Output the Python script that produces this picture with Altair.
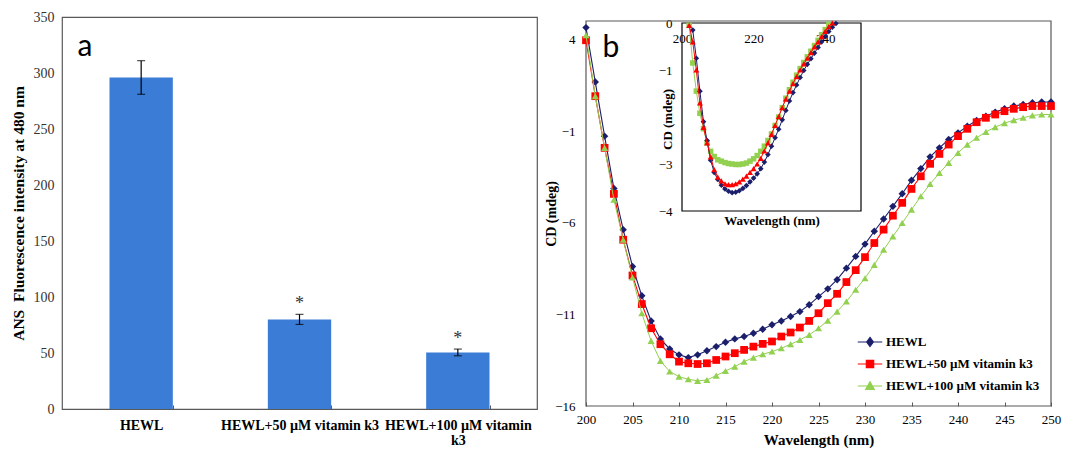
import altair as alt
import pandas as pd

# ---------------- data: panel a ----------------
categories = ["HEWL", "HEWL+50 µM vitamin k3", "HEWL+100 µM vitamin k3"]
intensity = [296, 80, 50.5]
intensity_err = [15, 4.5, 3]
significance = ["", "*", "*"]

# ---------------- data: panel b (main) ----------------
series_names = ["HEWL", "HEWL+50 µM vitamin k3", "HEWL+100 µM vitamin k3"]
wavelength = list(range(200, 251))
cd_hewl = [4.64, 1.67, -1.28, -4.14, -6.38, -8.39, -9.99, -11.36, -12.34, -12.89,
           -13.21, -13.36, -13.21, -12.99, -12.76, -12.52, -12.34, -12.21, -12.03, -11.81,
           -11.57, -11.36, -11.12, -10.85, -10.48, -10.03, -9.61, -9.11, -8.48, -7.84,
           -7.17, -6.47, -5.80, -5.11, -4.42, -3.69, -3.05, -2.41, -1.92, -1.46,
           -1.10, -0.74, -0.43, -0.19, 0.03, 0.21, 0.36, 0.45, 0.54, 0.58, 0.58]
cd_50 = [3.95, 0.90, -1.92, -4.43, -6.93, -8.88, -10.44, -11.76, -12.63, -13.18,
         -13.58, -13.67, -13.71, -13.67, -13.49, -13.30, -13.12, -12.94, -12.76, -12.61,
         -12.48, -12.21, -11.99, -11.72, -11.36, -10.94, -10.39, -9.88, -9.24, -8.59,
         -7.88, -7.11, -6.38, -5.62, -4.92, -4.16, -3.47, -2.79, -2.25, -1.74,
         -1.28, -0.88, -0.52, -0.28, -0.10, 0.08, 0.21, 0.30, 0.36, 0.36, 0.36]
cd_100 = [4.22, 0.90, -1.92, -4.74, -6.93, -8.99, -10.94, -12.45, -13.54, -14.12,
          -14.40, -14.54, -14.63, -14.58, -14.34, -14.09, -13.85, -13.58, -13.36, -13.18,
          -13.03, -12.85, -12.63, -12.40, -12.12, -11.76, -11.34, -10.85, -10.30, -9.66,
          -9.03, -8.30, -7.48, -6.75, -6.02, -5.29, -4.56, -3.89, -3.29, -2.74,
          -2.19, -1.74, -1.37, -1.05, -0.79, -0.57, -0.41, -0.28, -0.15, -0.10, -0.10]

# ---------------- data: panel b (inset) ----------------
inset_wl_hewl = list(range(203, 244))
inset_hewl = [-0.15, -0.75, -1.45, -2.10, -2.50, -2.92, -3.18, -3.33, -3.45, -3.53,
              -3.58, -3.61, -3.60, -3.57, -3.52, -3.46, -3.38, -3.30, -3.21, -3.10,
              -2.96, -2.80, -2.62, -2.44, -2.26, -2.06, -1.86, -1.66, -1.48, -1.32,
              -1.16, -1.01, -0.88, -0.76, -0.64, -0.52, -0.40, -0.29, -0.18, -0.09, -0.01]
inset_wl_50 = list(range(202, 243))
inset_50 = [-0.05, -0.40, -1.00, -1.70, -2.22, -2.55, -2.85, -3.12, -3.28, -3.36,
            -3.42, -3.44, -3.44, -3.42, -3.38, -3.32, -3.26, -3.18, -3.10, -3.00,
            -2.88, -2.72, -2.55, -2.37, -2.18, -1.99, -1.80, -1.62, -1.45, -1.29,
            -1.14, -1.00, -0.87, -0.75, -0.63, -0.51, -0.40, -0.29, -0.18, -0.08, 0.0]
inset_wl_100 = list(range(202, 242))
inset_100 = [-0.05, -0.85, -1.45, -1.92, -2.25, -2.55, -2.73, -2.84, -2.91, -2.94,
             -2.97, -2.99, -3.00, -3.01, -3.01, -3.00, -2.98, -2.94, -2.89, -2.82,
             -2.73, -2.62, -2.50, -2.36, -2.18, -2.00, -1.80, -1.60, -1.42, -1.26,
             -1.11, -0.97, -0.84, -0.72, -0.60, -0.48, -0.37, -0.25, -0.14, -0.03]

# ---------------- style ----------------
SERIF = "Liberation Serif"
NAVY, RED, GREEN = "#1B1F6B", "#FF0000", "#92D050"
BAR = "#3B7DD6"
FRAME = "#595959"
A_W, A_H = 475, 392
B_W, B_H = 465, 389
B_X_DOMAIN = [200, 250]
B_Y_DOMAIN = [-16, 5]
B_Y_RANGE = [389, 4]
IN_X_DOMAIN = [200, 250]
IN_Y_DOMAIN = [-4, 0]
IN_X_RANGE = [96, 275]
IN_Y_RANGE = [194, 6]

# ================= panel a =================
df_a = pd.DataFrame({"category": categories, "value": intensity,
                     "err": intensity_err, "sig": significance})
df_a["lo"] = df_a["value"] - df_a["err"]
df_a["hi"] = df_a["value"] + df_a["err"]

wrap_expr = ("datum.value == 'HEWL+100 µM vitamin k3' ? "
             "['HEWL+100 µM vitamin', 'k3'] : datum.label")

x_a = alt.X("category:N", sort=categories, title=None,
            scale=alt.Scale(paddingInner=0.6, paddingOuter=0.3),
            axis=alt.Axis(labelAngle=0, labelFont=SERIF, labelFontWeight="bold",
                          labelFontSize=14, labelColor="black", labelPadding=9,
                          labelLineHeight=15, labelExpr=wrap_expr, labelOverlap=False,
                          tickBand="extent", ticks=True, tickSize=4, offset=-4,
                          tickColor=FRAME, domain=False, grid=False))


def y_a(field):
    return alt.Y(field, title="ANS\u00a0 Fluorescence intensity at 480 nm",
                 scale=alt.Scale(domain=[0, 350], nice=False),
                 axis=alt.Axis(values=list(range(0, 351, 50)), labelFont=SERIF,
                               labelFontSize=14, labelColor="#333333", labelPadding=8,
                               ticks=False, domain=False, grid=False, labelFlush=False,
                               titleFont=SERIF, titleFontWeight="bold", titleFontSize=15.5,
                               titleColor="black", titlePadding=7))


base_a = alt.Chart(df_a)
bars = base_a.mark_bar(color=BAR).encode(x=x_a, y=y_a("value:Q"))
rules = base_a.mark_rule(color="black", strokeWidth=1.2).encode(
    x=x_a, y=y_a("lo:Q"), y2="hi:Q")
cap_lo = base_a.mark_tick(color="black", thickness=1.2, size=8).encode(x=x_a, y=y_a("lo:Q"))
cap_hi = base_a.mark_tick(color="black", thickness=1.2, size=8).encode(x=x_a, y=y_a("hi:Q"))
stars = base_a.mark_text(font=SERIF, fontSize=18, baseline="bottom", dy=-1,
                         color="#333333").encode(x=x_a, y=y_a("hi:Q"), text="sig:N")
a_label = alt.Chart(pd.DataFrame({"t": ["a"]})).mark_text(
    font="Lato", fontSize=30, color="black").encode(
    x=alt.value(23), y=alt.value(30), text="t:N")

panel_a = alt.layer(bars, rules, cap_lo, cap_hi, stars, a_label).properties(
    width=A_W, height=A_H, view=alt.ViewBackground(stroke=FRAME, strokeWidth=1.2))

# ================= panel b =================
df_b = pd.DataFrame({
    "wl": wavelength * 3,
    "cd": cd_hewl + cd_50 + cd_100,
    "series": [series_names[0]] * len(wavelength) + [series_names[1]] * len(wavelength)
              + [series_names[2]] * len(wavelength),
})

x_b_scale = alt.Scale(domain=B_X_DOMAIN, nice=False)
y_b_scale = alt.Scale(domain=B_Y_DOMAIN, range=B_Y_RANGE, nice=False)
x_b_axis = alt.Axis(values=list(range(200, 251, 5)), labelFont=SERIF, labelFontSize=13,
                    labelColor="black", labelFlush=False, labelPadding=7, ticks=True,
                    tickSize=4, offset=-4, tickColor=FRAME, domain=False, grid=False,
                    titleFont=SERIF, titleFontWeight="bold", titleFontSize=15,
                    titleColor="black", titlePadding=6)
y_b_axis = alt.Axis(values=[4, -1, -6, -11, -16], labelFont=SERIF, labelFontSize=13,
                    labelColor="black", labelFlush=False, labelPadding=11, ticks=False,
                    domain=False, grid=False, titleFont=SERIF, titleFontWeight="bold",
                    titleFontSize=14, titleColor="black", titlePadding=-4)


def xb(field="wl:Q"):
    return alt.X(field, title="Wavelength (nm)", scale=x_b_scale, axis=x_b_axis)


def yb(field="cd:Q"):
    return alt.Y(field, title="CD (mdeg)", scale=y_b_scale, axis=y_b_axis)


one = pd.DataFrame({"k": [0]})
frame_b = alt.Chart(one).mark_rect(fillOpacity=0, stroke=FRAME, strokeWidth=1.2).encode(
    x=alt.XDatum(B_X_DOMAIN[0], type="quantitative", title="Wavelength (nm)",
                 scale=x_b_scale, axis=x_b_axis),
    x2=alt.X2Datum(B_X_DOMAIN[1]),
    y=alt.YDatum(B_Y_DOMAIN[1], type="quantitative", title="CD (mdeg)",
                 scale=y_b_scale, axis=y_b_axis),
    y2=alt.Y2Datum(B_Y_DOMAIN[0]),
)

styles = [
    (series_names[0], NAVY, "diamond", 55, 1.1),
    (series_names[1], RED, "square", 60, 1.1),
    (series_names[2], GREEN, "triangle-up", 50, 1.0),
]
main_layers = [frame_b]
for name, col, shp, sz, lw in styles:
    src = alt.Chart(df_b).transform_filter(alt.datum.series == name)
    main_layers.append(src.mark_line(color=col, strokeWidth=lw).encode(x=xb(), y=yb()))
    main_layers.append(src.mark_point(filled=True, shape=shp, size=sz, color=col,
                                      opacity=1).encode(x=xb(), y=yb()))

legend_paths = [
    "M-2,0H2M0,-0.75L0.55,0L0,0.75L-0.55,0Z",
    "M-2,0H2M-0.6,-0.6H0.6V0.6H-0.6Z",
    "M-2,0H2M0,-0.7L0.7,0.55L-0.7,0.55Z",
]
leg = alt.Legend(title=None, orient="none", legendX=277, legendY=318, labelFont=SERIF,
                 labelFontWeight="bold", labelFontSize=13, labelColor="black",
                 symbolSize=150, symbolStrokeWidth=1.2, labelOffset=9, rowPadding=8,
                 labelLimit=300)
legend_layer = alt.Chart(pd.DataFrame({"series": series_names})).transform_filter(
    "false").mark_point(filled=True, opacity=1).encode(
    shape=alt.Shape("series:N", scale=alt.Scale(domain=series_names, range=legend_paths),
                    legend=leg),
    fill=alt.Fill("series:N", scale=alt.Scale(domain=series_names,
                                              range=[NAVY, RED, GREEN]), legend=leg),
    stroke=alt.Stroke("series:N", scale=alt.Scale(domain=series_names,
                                                  range=[NAVY, RED, GREEN]), legend=leg),
)
b_label = alt.Chart(pd.DataFrame({"t": ["b"]})).mark_text(
    font="Lato", fontSize=30, color="black").encode(
    x=alt.value(25), y=alt.value(31), text="t:N")
main_layers += [legend_layer, b_label]
main_b = alt.layer(*main_layers)

# ---- inset ----
df_in = pd.DataFrame({
    "wl": inset_wl_hewl + inset_wl_50 + inset_wl_100,
    "cd": inset_hewl + inset_50 + inset_100,
    "series": [series_names[0]] * len(inset_wl_hewl) + [series_names[1]] * len(inset_wl_50)
              + [series_names[2]] * len(inset_wl_100),
})
in_x_scale = alt.Scale(domain=IN_X_DOMAIN, range=IN_X_RANGE, nice=False)
in_y_scale = alt.Scale(domain=IN_Y_DOMAIN, range=IN_Y_RANGE, nice=False)
in_x_axis = alt.Axis(orient="top", offset=-IN_Y_RANGE[1], values=[200, 220, 240],
                     labelFont=SERIF, labelFontSize=13, labelColor="black",
                     labelFlush=False, ticks=False, tickSize=0, labelBaseline="top",
                     labelPadding=-9, domain=False, grid=False, titleFont=SERIF,
                     titleFontWeight="bold", titleFontSize=13, titleColor="black",
                     titleX=(IN_X_RANGE[0] + IN_X_RANGE[1]) / 2, titleY=197,
                     titleBaseline="middle", titleAlign="center", titleAngle=0)
in_y_axis = alt.Axis(orient="left", offset=-IN_X_RANGE[0], values=[0, -1, -3, -4],
                     labelFont=SERIF, labelFontSize=13, labelColor="black",
                     labelFlush=False, ticks=False, tickSize=0, labelPadding=10,
                     domain=False, grid=False, titleFont=SERIF, titleFontWeight="bold",
                     titleFontSize=13, titleColor="black", titleX=-15, titleY=102,
                     titleBaseline="middle", titleAlign="center")


def xi(field="wl:Q"):
    return alt.X(field, title="Wavelength (nm)", scale=in_x_scale, axis=in_x_axis)


def yi(field="cd:Q"):
    return alt.Y(field, title="CD (mdeg)", scale=in_y_scale, axis=in_y_axis)


frame_in = alt.Chart(one).mark_rect(fillOpacity=0, stroke="black", strokeWidth=1.2).encode(
    x=alt.XDatum(IN_X_DOMAIN[0], type="quantitative", title="Wavelength (nm)",
                 scale=in_x_scale, axis=in_x_axis),
    x2=alt.X2Datum(IN_X_DOMAIN[1]),
    y=alt.YDatum(IN_Y_DOMAIN[1], type="quantitative", title="CD (mdeg)",
                 scale=in_y_scale, axis=in_y_axis),
    y2=alt.Y2Datum(IN_Y_DOMAIN[0]),
)
in_styles = [
    (series_names[2], GREEN, "square", 30, 1.0),
    (series_names[0], NAVY, "diamond", 32, 1.0),
    (series_names[1], RED, "triangle-up", 36, 1.0),
]
in_layers = [frame_in]
for name, col, shp, sz, lw in in_styles:
    src = alt.Chart(df_in).transform_filter(alt.datum.series == name)
    in_layers.append(src.mark_line(color=col, strokeWidth=lw).encode(x=xi(), y=yi()))
    in_layers.append(src.mark_point(filled=True, shape=shp, size=sz, color=col,
                                    opacity=1).encode(x=xi(), y=yi()))
inset = alt.layer(*in_layers)

panel_b = alt.layer(main_b, inset).resolve_scale(
    x="independent", y="independent").properties(
    width=B_W, height=B_H, view=alt.ViewBackground(stroke=None))

chart = alt.hconcat(panel_a, panel_b, spacing=49, bounds="flush").resolve_legend(
    shape="independent", fill="independent", stroke="independent").properties(
    padding={"left": 10, "top": 9, "right": 5, "bottom": 5},
    background="white",
).configure_view(strokeWidth=1.2)

chart.save("out.html", embed_options={"renderer": "svg", "actions": False})
